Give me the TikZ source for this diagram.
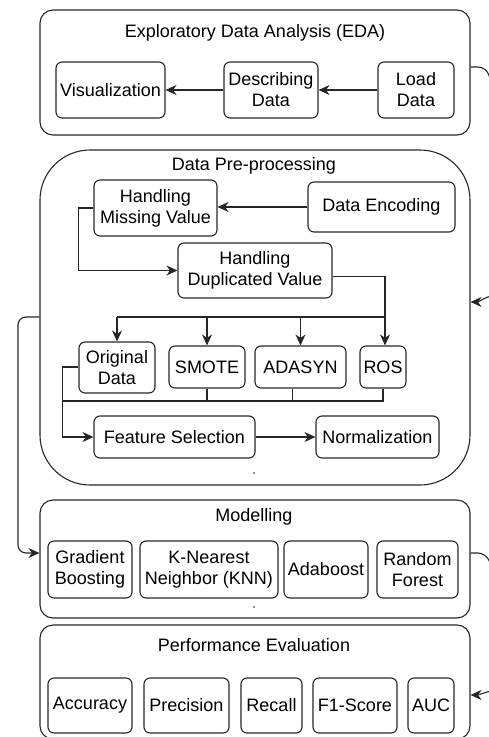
\documentclass[tikz,border=0pt]{standalone}
\usepackage{fontspec}
\setmainfont{Liberation Sans}
\usetikzlibrary{arrows.meta,calc}
\tikzset{
  box/.style={draw=black!85,line width=1.1pt,rounded corners=6pt,inner sep=0pt,align=center,font=\fontsize{18}{21}\selectfont},
  frame/.style={draw=black!85,line width=1.1pt,inner sep=0pt},
  ttl/.style={inner sep=0pt,font=\fontsize{18}{21}\selectfont},
  conn/.style={draw=black!85,line width=1.1pt},
  arr/.style={conn,-{Stealth[length=11pt,width=10pt,inset=3.5pt]}},
}
\newcommand\bx[7][]{\node[box,#1,minimum width={#4-#2},minimum height={#5-#3}] (#6) at ({(#2+#4)/2},{(#3+#5)/2}) {#7};}
\begin{document}
\begin{tikzpicture}[x=1pt,y=-1pt]
\useasboundingbox (0,0) rectangle (489,737);
\clip (0,0) rectangle (489,737);
% outer frames
\bx[frame,rounded corners=13pt]{40}{10}{470}{135}{eda}{}
\bx[frame,rounded corners=50pt]{40}{150}{470}{485}{pp}{}
\bx[frame,rounded corners=13pt]{40}{500}{470}{618}{mod}{}
\bx[frame,rounded corners=13pt]{40}{625}{470}{739}{perf}{}
\node[ttl] (tEDA) at (255,33) {Exploratory Data Analysis (EDA)};
\node[ttl] (tPP) at (254,166) {Data Pre-processing};
\node[ttl] (tMod) at (254,517) {Modelling};
\node[ttl] (tPerf) at (254,645) {Performance Evaluation};
% EDA
\bx{56}{62}{165}{118}{vis}{Visualization}
\bx{224}{62}{318}{118}{desc}{Describing\\Data}
\bx{378}{62}{454}{118}{load}{Load\\Data}
% Pre-processing
\bx{94}{180}{217}{236}{hmv}{Handling\\Missing Value}
\bx{308}{182}{455}{232}{enc}{Data Encoding}
\bx{178}{243}{332}{298}{hdv}{Handling\\Duplicated Value}
\bx{79}{342}{155}{393}{orig}{Original\\Data}
\bx{169}{346}{245}{388}{smote}{SMOTE}
\bx{255}{346}{346}{388}{adasyn}{ADASYN}
\bx{360}{346}{406}{388}{ros}{ROS}
\bx{94}{416}{255}{458}{fs}{Feature Selection}
\bx{316}{416}{439}{458}{norm}{Normalization}
% Modelling
\bx{48}{541}{132}{598}{gb}{Gradient\\Boosting}
\bx{140}{541}{278}{598}{knn}{K-Nearest\\Neighbor (KNN)}
\bx{284}{541}{368}{598}{ada}{Adaboost}
\bx{377}{541}{458}{598}{rf}{Random\\Forest}
% Performance
\bx{48}{678}{132}{733}{acc}{Accuracy}
\bx{144}{678}{229}{733}{prec}{Precision}
\bx{241}{678}{302}{733}{rec}{Recall}
\bx{313}{678}{397}{733}{f1}{F1-Score}
\bx{408}{678}{454}{733}{auc}{AUC}
% coordinates
\coordinate (split) at (385,317);
\coordinate (merge) at (63,401);
\coordinate (r1) at (492,84);
\coordinate (r2) at (492,296);
\coordinate (r3) at (492,568);
\coordinate (r4) at (492,691);
% EDA arrows
\draw[arr] (load.west) -- (desc.east);
\draw[arr] (desc.west) -- (vis.east);
% Pre-processing arrows
\draw[arr] (enc.west) -- (hmv.east |- enc.west);
\draw[arr] (hmv.west) -- ++(-15,0) |- (hdv.west);
\draw[conn] ($(hdv.east)+(0,6)$) -| (split);
\draw[arr] (split) -- (ros.north -| split);
\draw[conn] (split) -- (orig.north |- split);
\draw[arr] (orig.north |- split) -- (orig.north);
\draw[arr] (smote.north |- split) -- (smote.north);
\draw[arr] (adasyn.north |- split) -- (adasyn.north);
\draw[conn] (smote.south) -- (smote.south |- merge);
\draw[conn] ($(adasyn.south)+(-8,0)$) -- ($(adasyn.south |- merge)+(-8,0)$);
\draw[conn] (ros.south) -- (ros.south |- merge) -- (merge);
\draw[arr] ($(orig.west)+(0,-0.5)$) -- ++(-16,0) |- (fs.west);
\draw[arr] (fs.east) -- (norm.west);
% left loop
\draw[arr,rounded corners=8pt] (pp.west |- 0,317) -- (18,317) -- (18,553) -- (mod.west |- 0,553);
% right side loops
\draw[conn,rounded corners=8pt] (eda.east |- 0,67) -- (486,67) -- (r1);
\draw[conn,rounded corners=8pt] (mod.east |- 0,553) -- (486,553) -- (r3);
\draw[arr] (r2) to[out=190,in=0] (pp.east |- 0,302);
\draw[arr] (r4) to[out=190,in=0] (perf.east |- 0,695);
% stray dots
\fill[black!85] (254,473) circle (0.9);
\fill[black!85] (254,607) circle (0.9);
\end{tikzpicture}
\end{document}
